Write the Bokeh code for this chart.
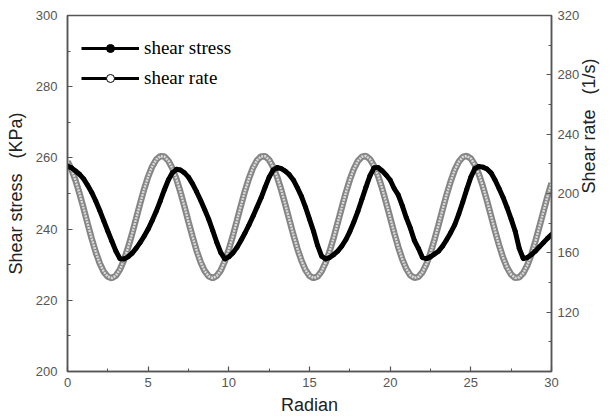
import math
from bokeh.plotting import figure
from bokeh.models import (Range1d, LinearAxis, FixedTicker, Legend, LegendItem,
                          ColumnDataSource)
from bokeh.embed import file_html
from bokeh.resources import INLINE

# ---- data ----
radian = [round(0.25 * i, 2) for i in range(121)]

shear_stress = [
    257.7, 257.2, 256.3, 255.4, 254.1, 252.3, 250.3, 247.9, 245.2, 242.3, 239.4, 236.6, 233.8,
    231.7, 231.6, 232.2, 233.2, 234.6, 236.2, 238.0, 240.0, 242.4, 245.0, 247.9, 251.0,
    253.8, 255.8, 256.8, 256.6, 255.8, 254.6, 252.7, 250.5, 248.1, 245.5, 242.8, 239.6,
    236.3, 233.4, 231.6, 232.2, 233.3, 234.8, 236.8, 238.9, 241.2, 243.6, 246.2, 248.8,
    251.8, 254.6, 256.6, 257.3, 257.0, 256.3, 255.3, 253.8, 251.6, 249.2, 246.2, 242.8,
    239.4, 235.4, 232.4, 231.6, 232.0, 232.8, 233.8, 235.2, 237.0, 239.3, 242.0, 245.0,
    248.4, 251.8, 255.0, 257.2, 257.3, 256.4, 255.2, 253.8, 251.4, 249.6, 246.6, 243.2,
    240.3, 236.8, 234.6, 232.0, 231.7, 232.2, 233.0, 233.8, 235.2, 237.0, 239.0, 241.2,
    244.2, 247.6, 251.2, 254.6, 257.0, 257.6, 257.4, 256.9, 255.8, 253.8, 251.4, 248.9,
    246.0, 242.8, 239.4, 234.6, 231.7, 232.0, 232.8, 233.8, 235.0, 236.2, 237.4, 238.5,
]

shear_rate = [
    221.6, 216.2, 208.7, 199.8, 189.9, 179.6, 169.6, 160.5, 152.9, 147.2, 143.9, 143.0, 144.6,
    148.8, 155.1, 163.4, 172.7, 182.9, 193.2, 202.9, 211.4, 218.2, 222.9, 225.2, 224.9,
    222.1, 217.0, 209.8, 201.0, 191.2, 180.9, 170.9, 161.6, 153.8, 147.9, 144.2, 143.0,
    144.4, 148.2, 154.3, 162.2, 171.5, 181.6, 191.9, 201.7, 210.3, 217.4, 222.4, 225.0,
    225.1, 222.7, 217.8, 210.9, 202.3, 192.5, 182.3, 172.2, 162.8, 154.8, 148.5, 144.5,
    143.0, 144.1, 147.6, 153.4, 161.1, 170.3, 180.3, 190.5, 200.4, 209.3, 216.6, 221.9,
    224.8, 225.3, 223.1, 218.6, 211.9, 203.5, 193.9, 183.7, 173.5, 164.0, 155.7, 149.2,
    144.9, 143.1, 143.8, 147.0, 152.5, 159.9, 169.0, 178.9, 189.2, 199.2, 208.2, 215.8,
    221.3, 224.6, 225.3, 223.6, 219.3, 212.9, 204.7, 195.2, 185.0, 174.8, 165.2, 156.7,
    150.0, 145.4, 143.1, 143.5, 146.4, 151.6, 158.8, 167.7, 177.6, 187.8, 197.9, 207.0,
]

x_ticks = [0, 5, 10, 15, 20, 25, 30]
x_minor = [2.5, 7.5, 12.5, 17.5, 22.5, 27.5]
left_ticks = [200, 220, 240, 260, 280, 300]
left_minor = [210, 230, 250, 270, 290]
right_ticks = [120, 160, 200, 240, 280, 320]
right_minor = [100, 140, 180, 220, 260, 300]

series_names = ["shear stress", "shear rate"]

# ---- figure ----
p = figure(width=613, height=419, x_range=Range1d(0, 30), y_range=Range1d(200, 300),
           output_backend="svg", toolbar_location=None,
           min_border_left=67, min_border_right=62, min_border_top=15, min_border_bottom=48)
p.extra_y_ranges = {"rate": Range1d(80, 320)}
p.xgrid.visible = False
p.ygrid.visible = False
p.outline_line_color = "#555555"
p.outline_line_width = 1.5
p.background_fill_color = "white"
p.border_fill_color = "white"

src = ColumnDataSource(dict(x=radian, stress=shear_stress, rate=shear_rate))

# shear rate (right axis): grey band of open markers
p.line("x", "rate", source=src, y_range_name="rate", line_color="#858585", line_width=6.5)
p.line("x", "rate", source=src, y_range_name="rate", line_color="#dadada", line_width=2.5,
       line_dash="2 1")
# shear stress (left axis): thick black line
p.line("x", "stress", source=src, line_color="black", line_width=5)
p.scatter("x", "stress", source=src, size=4, color="black")

# legend-only renderers (no visible data)
nan = float("nan")
empty = ColumnDataSource(dict(x=[nan], y=[nan]))
l1 = p.line("x", "y", source=empty, line_color="black", line_width=3)
m1 = p.scatter("x", "y", source=empty, marker="circle", size=4, color="black")
l2 = p.line("x", "y", source=empty, line_color="black", line_width=3)
m2 = p.scatter("x", "y", source=empty, marker="circle", size=5, line_color="black",
               fill_color="white", line_width=1)

legend = Legend(items=[LegendItem(label=series_names[0], renderers=[l1, m1]),
                       LegendItem(label=series_names[1], renderers=[l2, m2])],
                location=(14, 282))
legend.border_line_color = None
legend.background_fill_alpha = 0
legend.label_text_font = "Liberation Serif"
legend.label_text_font_size = "19px"
legend.label_text_color = "black"
legend.glyph_width = 58
legend.glyph_height = 20
legend.label_height = 20
legend.spacing = 8
legend.padding = 0
legend.margin = 0
legend.label_standoff = 5
p.add_layout(legend)

# axes
xaxis = p.xaxis[0]
xaxis.ticker = FixedTicker(ticks=x_ticks, minor_ticks=x_minor)
xaxis.axis_label = "Radian"
xaxis.major_label_standoff = 6
xaxis.axis_label_standoff = 5

yaxis = p.yaxis[0]
yaxis.ticker = FixedTicker(ticks=left_ticks, minor_ticks=left_minor)
yaxis.axis_label = "Shear stress\u00a0\u00a0\u00a0(KPa)"
yaxis.major_label_standoff = 10
yaxis.axis_label_standoff = 7

raxis = LinearAxis(y_range_name="rate")
raxis.ticker = FixedTicker(ticks=right_ticks, minor_ticks=right_minor)
raxis.axis_label = "Shear rate\u00a0\u00a0\u00a0(1/s)"
raxis.axis_label_orientation = math.pi / 2
raxis.major_label_standoff = 6
raxis.axis_label_standoff = 7
p.add_layout(raxis, "right")

for ax in (xaxis, yaxis, raxis):
    ax.axis_line_color = "#555555"
    ax.axis_line_width = 1.5
    ax.major_tick_line_color = "#555555"
    ax.minor_tick_line_color = "#555555"
    ax.major_tick_line_width = 1.2
    ax.major_tick_in = 5
    ax.major_tick_out = 0
    ax.minor_tick_in = 3
    ax.minor_tick_out = 0
    ax.major_label_text_font = "Liberation Sans"
    ax.major_label_text_font_size = "13px"
    ax.major_label_text_color = "#555555"
    ax.axis_label_text_font = "Liberation Sans"
    ax.axis_label_text_font_size = "18px"
    ax.axis_label_text_font_style = "normal"
    ax.axis_label_text_color = "#222222"

open("out.html", "w").write(file_html(p, INLINE))
